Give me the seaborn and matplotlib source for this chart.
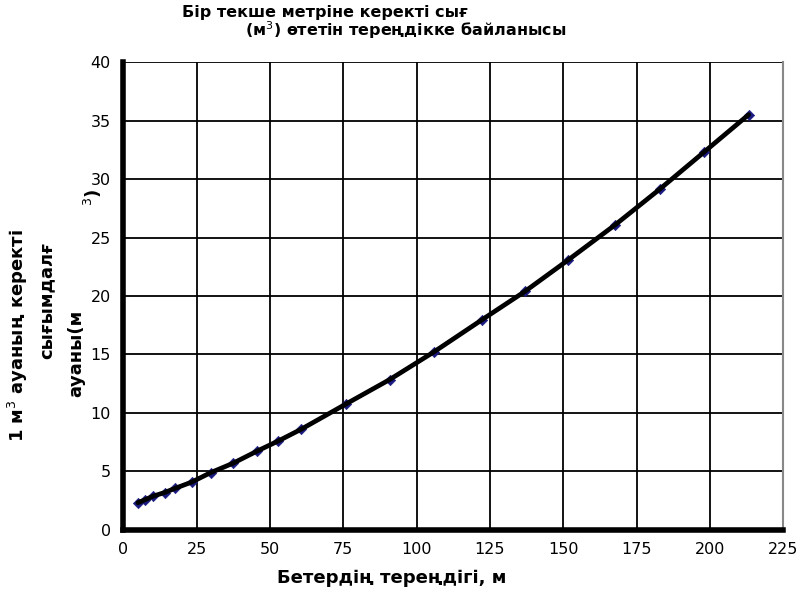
import matplotlib
matplotlib.use("Agg")
import matplotlib.pyplot as plt
import seaborn as sns
import pandas as pd

depth_m = [5.0, 7.6, 10.3, 14.1, 17.6, 23.4, 29.8, 37.4, 45.7, 52.8, 60.6,
           75.8, 90.8, 105.8, 122.2, 137.0, 151.8, 167.8, 183.0, 198.0, 213.2]
air_m3 = [2.33, 2.6, 2.9, 3.2, 3.55, 4.1, 4.9, 5.7, 6.75, 7.6, 8.6,
          10.75, 12.85, 15.2, 17.95, 20.4, 23.1, 26.1, 29.15, 32.3, 35.5]

x_ticks = [0, 25, 50, 75, 100, 125, 150, 175, 200, 225]
y_ticks = [0, 5, 10, 15, 20, 25, 30, 35, 40]

df = pd.DataFrame({"depth": depth_m, "air": air_m3})

sns.set_style("white")
plt.rcParams['font.family'] = ['DejaVu Sans']
plt.rcParams['text.color'] = 'black'

fig = plt.figure(figsize=(8, 5.89), dpi=100)
ax = fig.add_axes([0.154, 0.1002, 0.825, 0.7945])

sns.scatterplot(data=df, x="depth", y="air", marker="D", s=28, color="#1a1a80",
                edgecolor="#1a1a80", ax=ax, zorder=3)
sns.lineplot(data=df, x="depth", y="air", color="black", linewidth=3.4, ax=ax,
             zorder=4, sort=False)

ax.set_xlim(0, 225)
ax.set_ylim(0, 40)
ax.set_xticks(x_ticks)
ax.set_yticks(y_ticks)
ax.tick_params(axis="both", labelsize=11.5, direction="out", length=5, width=3,
               colors="black", pad=4)
ax.grid(True, color="black", linewidth=1.3)
ax.set_axisbelow(True)
for side in ["left", "bottom"]:
    ax.spines[side].set_linewidth(4)
    ax.spines[side].set_color("black")
ax.spines["top"].set_visible(False)
ax.spines["right"].set_color("#888888")
ax.spines["right"].set_linewidth(1.5)
ax.set_xlabel("")
ax.set_ylabel("")

# Title
fig.text(0.228, 0.978, "Бір текше метріне керекті сығ", fontsize=11.5,
         fontweight="bold", va="center", ha="left", color="black")
fig.text(0.306, 0.948, "(м$^3$) өтетін тереңдікке байланысы", fontsize=11.5,
         fontweight="bold", va="center", ha="left", color="black")

# X label
fig.text(0.49, 0.018, "Бетердің тереңдігі, м", fontsize=13, fontweight="bold",
         ha="center", va="center", color="black")

# Y label (three stacked rotated lines)
fig.text(0.022, 0.43, "1 м$^3$ ауаның керекті", fontsize=13,
         fontweight="bold", rotation=90, ha="center", va="center", color="black")
fig.text(0.058, 0.49, "сығымдалғ", fontsize=13, fontweight="bold",
         rotation=90, ha="center", va="center", color="black")
fig.text(0.095, 0.40, "ауаны(м", fontsize=13, fontweight="bold",
         rotation=90, ha="center", va="center", color="black")
fig.text(0.116, 0.665, "$^3$)", fontsize=13, fontweight="bold",
         rotation=90, ha="center", va="center", color="black")

fig.savefig("out.png", dpi=100)
